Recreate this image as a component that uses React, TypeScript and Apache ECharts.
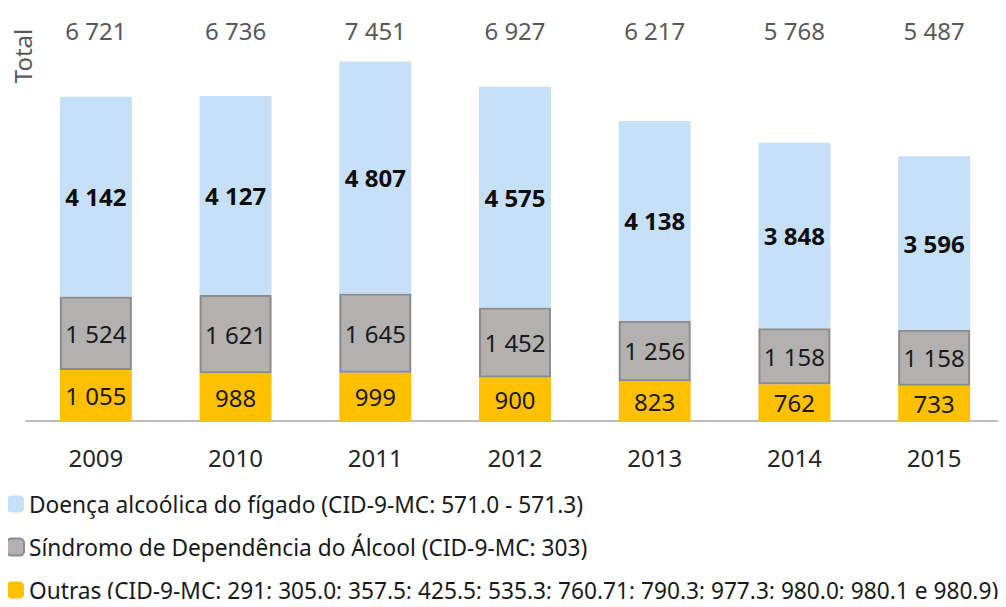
import React, { useEffect, useRef } from "react";
import * as echarts from "echarts";

const years = ["2009", "2010", "2011", "2012", "2013", "2014", "2015"];
const outras = [1055, 988, 999, 900, 823, 762, 733];
const sindrome = [1524, 1621, 1645, 1452, 1256, 1158, 1158];
const doenca = [4142, 4127, 4807, 4575, 4138, 3848, 3596];
const totals = [6721, 6736, 7451, 6927, 6217, 5768, 5487];

const names = [
  "Doença alcoólica do fígado (CID-9-MC: 571.0 - 571.3)",
  "Síndromo de Dependência do Álcool (CID-9-MC: 303)",
  "Outras (CID-9-MC: 291; 305.0; 357.5; 425.5; 535.3; 760.71; 790.3; 977.3; 980.0; 980.1 e 980.9)",
];

const FONT = "'Noto Sans', 'Open Sans', sans-serif";
const fmt = (n: number) => String(n).replace(/\B(?=(\d{3})+(?!\d))/g, " ");

export default function App() {
  const ref = useRef<HTMLDivElement>(null);
  useEffect(() => {
    if (!ref.current) return;
    const chart = echarts.init(ref.current, undefined, { renderer: "svg" });
    chart.setOption({
      animation: false,
      textStyle: { fontFamily: FONT },
      grid: { left: 26, right: 2, top: 35, bottom: 186 },
      legend: {
        orient: "vertical",
        left: 1,
        top: 486,
        height: 121,
        itemWidth: 17,
        itemHeight: 17,
        itemGap: 17,
        data: names,
        textStyle: { fontSize: 22.7, color: "#1a1a1a", fontFamily: FONT, lineHeight: 26 },
      },
      graphic: [
        {
          type: "text",
          x: 22,
          y: 56,
          rotation: Math.PI / 2,
          style: {
            text: "Total",
            fontSize: 24,
            fontFamily: FONT,
            fill: "#595959",
            textAlign: "center",
            textVerticalAlign: "middle",
          },
        },
      ],
      xAxis: [
        {
          type: "category",
          data: years,
          axisLine: { lineStyle: { color: "#a6a6a6", width: 1.5 } },
          axisTick: { show: false },
          axisLabel: { fontSize: 24, color: "#262626", margin: 24 },
        },
        {
          type: "category",
          position: "top",
          data: totals.map(fmt),
          axisLine: { show: false },
          axisTick: { show: false },
          axisLabel: { fontSize: 24, color: "#595959", margin: -7 },
        },
      ],
      yAxis: {
        type: "value",
        min: 0,
        max: 8000,
        show: false,
        splitLine: { show: false },
      },
      series: [
        {
          name: names[2],
          type: "bar",
          stack: "t",
          data: outras,
          barWidth: "51.5%",
          itemStyle: { color: "#ffc000" },
          label: { show: true, position: "inside", fontSize: 24, color: "#1a1a1a", formatter: (p: any) => fmt(p.value) },
        },
        {
          name: names[1],
          type: "bar",
          stack: "t",
          data: sindrome,
          itemStyle: { color: "#b3b0b0", borderColor: "#8c8c8c", borderWidth: 2 },
          label: { show: true, position: "inside", fontSize: 24, color: "#1a1a1a", formatter: (p: any) => fmt(p.value) },
        },
        {
          name: names[0],
          type: "bar",
          stack: "t",
          data: doenca,
          itemStyle: { color: "#c6e0f7" },
          label: {
            show: true,
            position: "inside",
            fontSize: 24,
            fontWeight: "bold",
            color: "#0d0d0d",
            formatter: (p: any) => fmt(p.value),
          },
        },
      ],
    });
    return () => chart.dispose();
  }, []);
  return <div ref={ref} style={{ width: 1006, height: 607, margin: -8 }} />;
}
